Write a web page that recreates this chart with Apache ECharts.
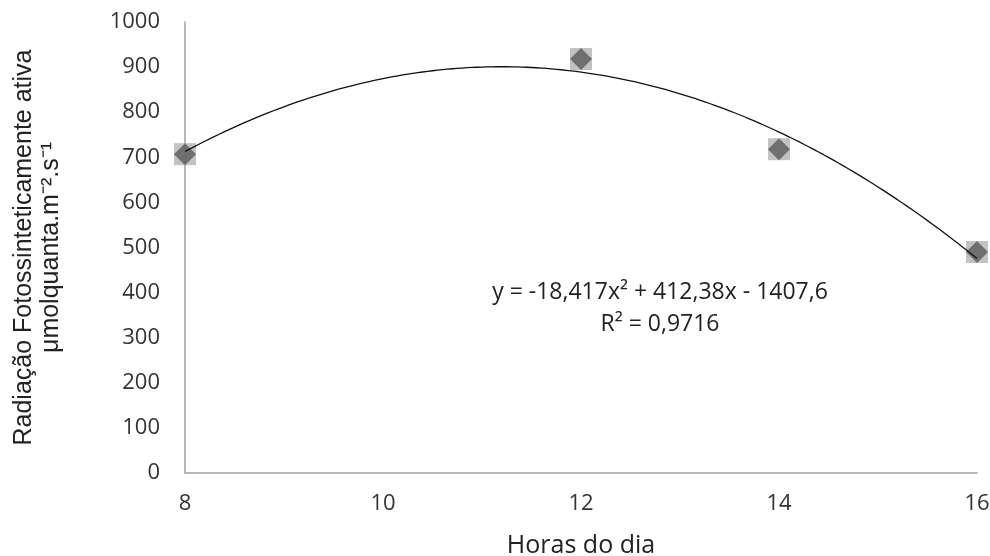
<!DOCTYPE html>
<html>
<head>
<meta charset="utf-8">
<script src="https://cdn.jsdelivr.net/npm/echarts@6/dist/echarts.min.js"></script>
<style>
  html, body { margin: 0; padding: 0; background: #fff; }
  #chart { width: 990px; height: 556px; }
</style>
</head>
<body>
<div id="chart"></div>
<script>
// Observed hours and photosynthetically active radiation
const hours = [8, 12, 14, 16];
const radiation = [707, 918, 718, 490];

// Quadratic trendline coefficients: y = a·x² + b·x + c
const trendCoef = [-18.417, 412.38, -1407.6];
const rSquared = 0.9716;

const xTicks = [8, 10, 12, 14, 16];

// Trendline sampled along the x range
const trendPoints = [];
for (let i = 0; i <= 160; i++) {
  const x = 8 + i * 0.05;
  trendPoints.push([x, trendCoef[0] * x * x + trendCoef[1] * x + trendCoef[2]]);
}

const points = hours.map((h, i) => [h, radiation[i]]);

function fmt(v) { return String(v).replace('.', ','); }
const eqLine = 'y = ' + fmt(trendCoef[0]) + 'x² + ' + fmt(trendCoef[1]) + 'x - ' + fmt(Math.abs(trendCoef[2]));
const r2Line = 'R² = ' + fmt(rSquared);

const labelFont = 'Open Sans';

const chart = echarts.init(document.getElementById('chart'));
chart.setOption({
  animation: false,
  backgroundColor: '#ffffff',
  grid: { left: 185, right: 13, top: 22, bottom: 83, outerBoundsMode: 'none', containLabel: false },
  xAxis: {
    type: 'value',
    min: xTicks[0],
    max: xTicks[xTicks.length - 1],
    interval: 2,
    name: 'Horas do dia',
    nameLocation: 'middle',
    nameGap: 60,
    nameTextStyle: { fontFamily: labelFont, fontSize: 25, color: '#222' },
    axisLine: { show: true, lineStyle: { color: '#a0a0a0', width: 1.5 } },
    axisTick: { show: false },
    splitLine: { show: false },
    axisLabel: { fontFamily: labelFont, fontSize: 22, color: '#333', margin: 20, formatter: v => String(v) }
  },
  yAxis: {
    type: 'value',
    min: 0,
    max: 1000,
    interval: 100,
    name: 'Radiação Fotossinteticamente ativa\nμmolquanta.m⁻².s⁻¹',
    nameLocation: 'middle',
    nameRotate: 90,
    nameGap: 120,
    nameTextStyle: { fontFamily: 'Liberation Sans', fontSize: 25, color: '#222', lineHeight: 27 },
    axisLine: { show: true, lineStyle: { color: '#a0a0a0', width: 1.5 } },
    axisTick: { show: false },
    splitLine: { show: false },
    axisLabel: { fontFamily: labelFont, fontSize: 22, color: '#333', margin: 25, formatter: v => String(v) }
  },
  series: [
    {
      type: 'scatter',
      data: points,
      symbol: 'rect',
      symbolSize: 22,
      itemStyle: { color: '#b3b3b3' },
      z: 2
    },
    {
      type: 'scatter',
      data: points,
      symbol: 'diamond',
      symbolSize: 22,
      itemStyle: { color: '#5a5a5a' },
      z: 3
    },
    {
      type: 'line',
      data: trendPoints,
      showSymbol: false,
      smooth: false,
      lineStyle: { color: '#111', width: 1.3 },
      z: 4
    }
  ],
  graphic: [
    {
      type: 'text',
      x: 660,
      y: 292,
      style: {
        text: eqLine,
        fontFamily: labelFont,
        fontSize: 23,
        fill: '#222',
        align: 'center',
        verticalAlign: 'middle'
      }
    },
    {
      type: 'text',
      x: 660,
      y: 324,
      style: {
        text: r2Line,
        fontFamily: labelFont,
        fontSize: 23,
        fill: '#222',
        align: 'center',
        verticalAlign: 'middle'
      }
    }
  ]
});
</script>
</body>
</html>
